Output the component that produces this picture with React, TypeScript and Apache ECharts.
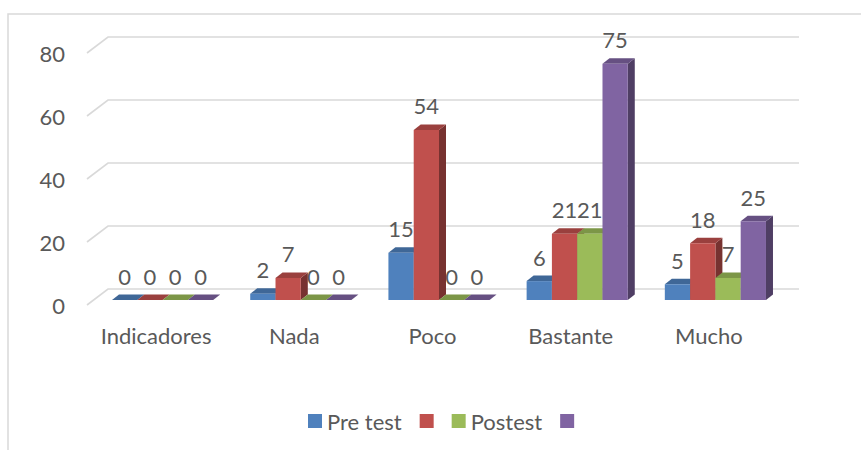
import React, { useEffect, useRef } from "react";
import * as echarts from "echarts";

const categories = ["Indicadores", "Nada", "Poco", "Bastante", "Mucho"];
const preTest = [0, 2, 15, 6, 5];
const serie2 = [0, 7, 54, 21, 18];
const postest = [0, 0, 0, 21, 7];
const serie4 = [0, 0, 0, 75, 25];
const seriesNames = ["Pre test", "Serie2", "Postest", "Serie4"];
const shownNames: Record<string, string> = { "Pre test": "Pre test", Serie2: "", Postest: "Postest", Serie4: "" };
const colors = ["#4F81BD", "#C0504D", "#9BBB59", "#8064A2"];
const yTicks = [0, 20, 40, 60, 80];

const FONT = "Lato, 'Noto Sans', sans-serif";
const TEXT = "#595959";

function shade(hex: string, f: number) {
  const n = parseInt(hex.slice(1), 16);
  const r = Math.round(((n >> 16) & 255) * f);
  const g = Math.round(((n >> 8) & 255) * f);
  const b = Math.round((n & 255) * f);
  return `rgb(${r},${g},${b})`;
}

// geometry of the pseudo-3D
const WALL_DX = 21, WALL_DY = 16;
const FRONT_DX = 6.5, FRONT_DY = 5;
const DEPTH_DX = 7, DEPTH_DY = 5.5;
const BAR_FRAC = 0.183;

export default function App() {
  const ref = useRef<HTMLDivElement>(null);
  useEffect(() => {
    if (!ref.current) return;
    const chart = echarts.init(ref.current, undefined, { renderer: "svg" });
    const allValues = [preTest, serie2, postest, serie4];

    const barSeries = allValues.map((vals, k) => ({
      type: "custom",
      name: seriesNames[k],
      z: 3,
      itemStyle: { color: colors[k] },
      encode: { x: 0, y: 1 },
      data: vals.map((v, i) => [i, v]),
      renderItem: (params: any, api: any) => {
        const cat = api.value(0);
        const v = api.value(1);
        const base = api.coord([cat, 0]);
        const top = api.coord([cat, v]);
        const band = api.size([1, 0])[0];
        const bw = band * BAR_FRAC;
        const x = base[0] - (bw * 4) / 2 + k * bw + FRONT_DX;
        const yb = base[1] - FRONT_DY;
        const yt = top[1] - FRONT_DY;
        const c = colors[k];
        return {
          type: "group",
          children: [
            {
              type: "polygon",
              shape: { points: [[x + bw, yt], [x + bw + DEPTH_DX, yt - DEPTH_DY], [x + bw + DEPTH_DX, yb - DEPTH_DY], [x + bw, yb]] },
              style: { fill: shade(c, 0.62) },
            },
            {
              type: "polygon",
              shape: { points: [[x, yt], [x + DEPTH_DX, yt - DEPTH_DY], [x + bw + DEPTH_DX, yt - DEPTH_DY], [x + bw, yt]] },
              style: { fill: shade(c, 0.8) },
            },
            {
              type: "rect",
              shape: { x, y: yt, width: bw, height: yb - yt },
              style: { fill: c },
            },
          ],
        };
      },
    }));

    const labelData: number[][] = [];
    allValues.forEach((vals, k) => vals.forEach((v, i) => labelData.push([i, v, k])));

    const labelSeries = {
      type: "custom",
      z: 2,
      silent: true,
      encode: { x: 0, y: 1 },
      data: labelData,
      renderItem: (params: any, api: any) => {
        const cat = api.value(0);
        const v = api.value(1);
        const k = api.value(2);
        const base = api.coord([cat, 0]);
        const top = api.coord([cat, v]);
        const band = api.size([1, 0])[0];
        const bw = band * BAR_FRAC;
        const x = base[0] - (bw * 4) / 2 + k * bw + FRONT_DX;
        const yt = top[1] - FRONT_DY;
        return {
          type: "text",
          style: {
            x: x + bw / 2,
            y: yt - 13,
            text: String(v),
            align: "center",
            verticalAlign: "bottom",
            fill: TEXT,
            font: `22px ${FONT}`,
          },
        };
      },
    };

    const gridSeries = {
      type: "custom",
      z: 1,
      silent: true,
      encode: { x: 0, y: 1 },
      data: yTicks.map((t) => [0, t]),
      renderItem: (params: any, api: any) => {
        const cs = params.coordSys;
        const y = api.coord([0, api.value(1)])[1];
        const x0 = cs.x;
        const x1 = cs.x + cs.width;
        return {
          type: "polyline",
          shape: { points: [[x0, y], [x0 + WALL_DX, y - WALL_DY], [x1 + WALL_DX, y - WALL_DY]] },
          style: { stroke: "#d9d9d9", lineWidth: 1.6, fill: "none" },
        };
      },
    };

    chart.setOption({
      animation: false,
      backgroundColor: "#ffffff",
      textStyle: { fontFamily: FONT },
      graphic: [
        {
          type: "rect",
          shape: { x: 8, y: 14, width: 900, height: 500 },
          style: { fill: "none", stroke: "#d9d9d9", lineWidth: 1.5 },
          silent: true,
        },
      ],
      grid: { left: 87, right: 83, top: 53, bottom: 145, containLabel: false },
      xAxis: {
        type: "category",
        data: categories,
        axisLine: { show: false },
        axisTick: { show: false },
        axisLabel: { color: TEXT, fontSize: 22, fontFamily: FONT, margin: 19, interval: 0 },
        splitLine: { show: false },
      },
      yAxis: {
        type: "value",
        min: 0,
        max: 80,
        interval: 20,
        axisLine: { show: false },
        axisTick: { show: false },
        splitLine: { show: false },
        axisLabel: { color: TEXT, fontSize: 22, fontFamily: FONT, margin: 22 },
      },
      legend: {
        data: seriesNames,
        left: 303,
        top: 405,
        icon: "rect",
        itemWidth: 14,
        itemHeight: 14,
        itemGap: 18,
        textStyle: { color: TEXT, fontSize: 22, fontFamily: FONT },
        formatter: (name: string) => shownNames[name] ?? name,
      },
      series: [gridSeries, labelSeries, ...barSeries],
    });
    return () => chart.dispose();
  }, []);
  return <div ref={ref} style={{ position: "fixed", left: 0, top: 0, width: 861, height: 450 }} />;
}
